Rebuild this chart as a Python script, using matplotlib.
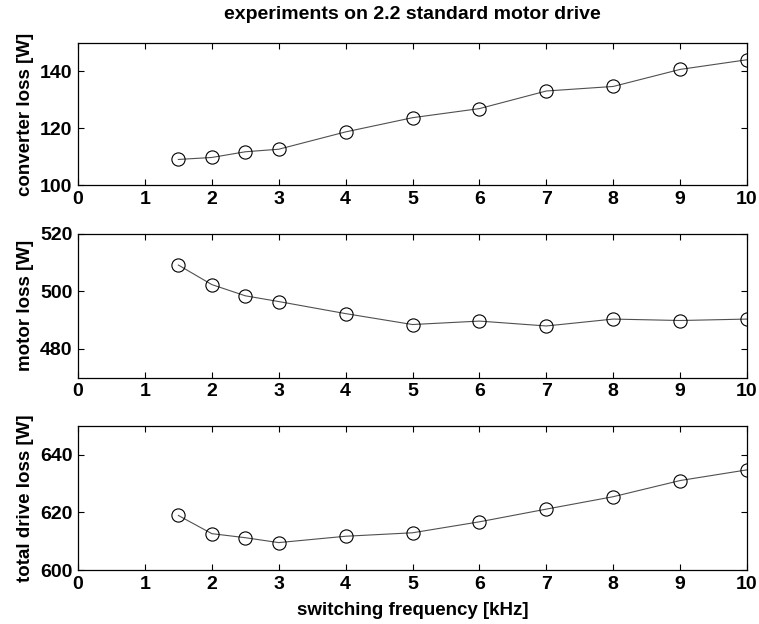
import numpy as np
import matplotlib
matplotlib.use('Agg')
import matplotlib.pyplot as plt

plt.rcParams['font.family'] = ['Liberation Sans', 'DejaVu Sans']
plt.rcParams['font.weight'] = 'bold'
plt.rcParams['axes.titleweight'] = 'bold'
plt.rcParams['axes.labelweight'] = 'bold'

# switching frequency [kHz]
freq = [1.5, 2, 2.5, 3, 4, 5, 6, 7, 8, 9, 10]
# measured losses [W]
conv_loss = [109.0, 109.7, 111.7, 112.6, 118.7, 123.7, 126.9, 133.1, 134.7, 140.7, 144.1]
motor_loss = [509.2, 502.4, 498.5, 496.5, 492.3, 488.5, 489.7, 488.0, 490.4, 489.9, 490.4]
total_loss = [618.9, 612.6, 611.2, 609.5, 611.7, 612.9, 616.7, 621.1, 625.4, 631.0, 634.7]

ylabels = ['converter loss [W]', 'motor loss [W]', 'total drive loss [W]']
ylims = [(100, 150), (470, 520), (600, 650)]
yticks = [[100, 120, 140], [480, 500, 520], [600, 620, 640]]
xticks = list(range(0, 11))

fig = plt.figure(figsize=(7.59, 6.24), dpi=100)
rects = [[0.1028, 0.7035, 0.8814, 0.2276],
         [0.1028, 0.3947, 0.8814, 0.2303],
         [0.1028, 0.0865, 0.8814, 0.2313]]

axes = []
for i, data in enumerate([conv_loss, motor_loss, total_loss]):
    ax = fig.add_axes(rects[i])
    ax.plot(freq, data, '-', color='#505050', lw=0.8)
    ax.plot(freq, data, 'o', mfc='none', mec='black', ms=9.5, mew=0.8)
    ax.set_xlim(0, 10)
    ax.set_ylim(*ylims[i])
    ax.set_xticks(xticks)
    ax.set_yticks(yticks[i])
    ax.tick_params(direction='in', top=True, right=True, length=4, width=0.8,
                   labelsize=14, pad=4)
    ax.set_ylabel(ylabels[i], fontsize=13.5, labelpad=4)
    for sp in ax.spines.values():
        sp.set_linewidth(0.9)
    axes.append(ax)

axes[0].set_title('experiments on 2.2 standard motor drive', fontsize=14, pad=17)
axes[2].set_xlabel('switching frequency [kHz]', fontsize=13.5, labelpad=7)

fig.savefig('out.png', dpi=100)
